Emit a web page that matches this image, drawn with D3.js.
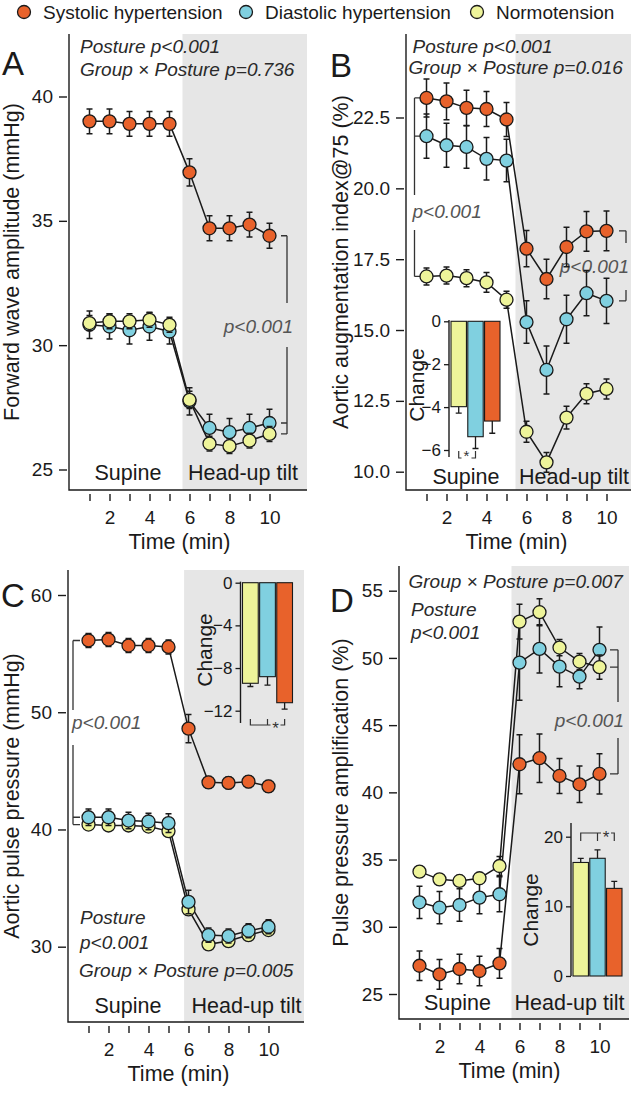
<!DOCTYPE html>
<html>
<head>
<meta charset="utf-8">
<script src="https://cdn.jsdelivr.net/npm/d3@7"></script>
<style>
  body { margin: 0; background: #fff; }
  text { font-family: "Liberation Sans", Arial, sans-serif; }
</style>
</head>
<body>
<script>
// ---- data ----
var minutes = [1, 2, 3, 4, 5, 6, 7, 8, 9, 10];
var groupNames = ['Systolic hypertension', 'Diastolic hypertension', 'Normotension'];
var groupColors = ['#e8622b', '#80d0e0', '#eef49a'];
var changeOrder = [2, 1, 0]; // bars: normotension, diastolic, systolic

// A: forward wave amplitude (mmHg)
var fwaSys = [39.0, 39.0, 38.9, 38.9, 38.9, 36.95, 34.7, 34.7, 34.85, 34.4];
var fwaSysSe = [0.5, 0.5, 0.5, 0.5, 0.5, 0.55, 0.5, 0.5, 0.5, 0.5];
var fwaDia = [30.82, 30.75, 30.6, 30.75, 30.55, 27.74, 26.67, 26.5, 26.67, 26.87];
var fwaDiaSe = [0.55, 0.5, 0.55, 0.55, 0.5, 0.55, 0.55, 0.55, 0.55, 0.55];
var fwaNor = [30.89, 30.96, 30.96, 31.02, 30.82, 27.8, 26.04, 25.94, 26.16, 26.43];
var fwaNorSe = [0.3, 0.3, 0.3, 0.3, 0.3, 0.35, 0.3, 0.3, 0.3, 0.3];

// B: aortic augmentation index@75 (%)
var aixSys = [23.19, 23.07, 22.84, 22.8, 22.43, 17.87, 16.8, 17.93, 18.48, 18.5];
var aixSysSe = [0.67, 0.65, 0.62, 0.62, 0.6, 0.64, 0.7, 0.7, 0.7, 0.7];
var aixDia = [21.84, 21.52, 21.46, 21.04, 20.98, 15.28, 13.59, 15.38, 16.3, 16.03];
var aixDiaSe = [0.78, 0.78, 0.75, 0.75, 0.75, 0.75, 0.85, 0.85, 0.8, 0.8];
var aixNor = [16.89, 16.92, 16.83, 16.68, 16.07, 11.41, 10.33, 11.91, 12.75, 12.92];
var aixNorSe = [0.3, 0.3, 0.3, 0.35, 0.3, 0.37, 0.35, 0.4, 0.35, 0.35];
var aixChange = [-3.98, -5.38, -4.65];
var aixChangeSe = [0.3, 0.55, 0.57];

// C: aortic pulse pressure (mmHg)
var appSys = [56.12, 56.2, 55.69, 55.69, 55.57, 48.6, 44.02, 43.97, 44.08, 43.68];
var appSysSe = [0.6, 0.6, 0.6, 0.6, 0.6, 1.2, 0.5, 0.5, 0.5, 0.5];
var appDia = [41.04, 41.04, 40.76, 40.68, 40.54, 33.82, 30.99, 30.91, 31.36, 31.7];
var appDiaSe = [0.7, 0.7, 0.7, 0.7, 0.8, 1.0, 0.6, 0.6, 0.6, 0.6];
var appNor = [40.42, 40.34, 40.34, 40.25, 39.86, 33.18, 30.2, 30.48, 30.99, 31.42];
var appNorSe = [0.4, 0.4, 0.4, 0.4, 0.4, 0.5, 0.4, 0.4, 0.4, 0.4];
var appChange = [-9.43, -8.81, -11.25];
var appChangeSe = [0.3, 0.8, 0.6];

// D: pulse pressure amplification (%)
var ppaSys = [27.1, 26.46, 26.86, 26.71, 27.28, 42.09, 42.54, 41.22, 40.6, 41.37];
var ppaSysSe = [1.1, 1.1, 1.1, 1.1, 1.1, 2.2, 1.8, 1.3, 1.36, 1.5];
var ppaDia = [31.82, 31.42, 31.62, 32.17, 32.42, 49.65, 50.67, 49.35, 48.61, 50.6];
var ppaDiaSe = [1.2, 1.2, 1.2, 1.2, 1.3, 2.8, 1.8, 1.5, 0.9, 1.7];
var ppaNor = [34.1, 33.53, 33.41, 33.61, 34.52, 52.7, 53.4, 50.77, 49.73, 49.31];
var ppaNorSe = [0.4, 0.4, 0.4, 0.4, 0.7, 1.3, 1.0, 0.6, 0.6, 0.9];
var ppaChange = [16.3, 16.9, 12.58];
var ppaChangeSe = [0.6, 1.2, 1.0];

var ink = '#1a1a1a';

var svg = d3.select('body')
  .append('svg')
  .attr('width', 633)
  .attr('height', 1093);

// legend
var legendX = [24, 246, 477];
groupNames.forEach(function (name, i) {
  svg.append('circle')
    .attr('cx', legendX[i]).attr('cy', 12).attr('r', 6.5)
    .attr('fill', groupColors[i]).attr('stroke', ink).attr('stroke-width', 1.3);
  svg.append('text')
    .attr('x', legendX[i] + 19).attr('y', 19)
    .attr('font-size', 19).attr('fill', ink)
    .text(name);
});

function drawPanel(p) {
  var g = svg.append('g');
  var x = d3.scaleLinear().domain([1, 10]).range([p.left + 20.5, p.left + 200.5]);
  var y = d3.scaleLinear().domain(p.yDomain).range(p.yRange);

  // head-up tilt shading
  g.append('rect')
    .attr('x', x(p.tiltFrom)).attr('y', p.top)
    .attr('width', p.right - x(p.tiltFrom)).attr('height', p.bottom - p.top)
    .attr('fill', '#e6e6e6');

  g.append('path')
    .attr('d', 'M' + p.left + ',' + p.top + 'V' + p.bottom + 'H' + p.right)
    .attr('fill', 'none').attr('stroke', ink).attr('stroke-width', 1.4);

  var ya = g.append('g')
    .attr('transform', 'translate(' + (p.left - 2) + ',0)')
    .call(d3.axisLeft(y).tickValues(p.yTicks).tickSize(8).tickPadding(6).tickFormat(p.yFmt));
  ya.select('.domain').remove();
  ya.attr('font-size', 19).attr('font-family', null);
  ya.selectAll('line').attr('stroke', ink).attr('stroke-width', 1.4);
  ya.selectAll('text').attr('fill', ink);

  var xa = g.append('g')
    .attr('transform', 'translate(0,' + (p.bottom + 4) + ')')
    .call(d3.axisBottom(x).tickValues(minutes).tickSize(7).tickPadding(10)
      .tickFormat(function (d) { return d % 2 === 0 ? d : ''; }));
  xa.select('.domain').remove();
  xa.attr('font-size', 19).attr('font-family', null);
  xa.selectAll('line').attr('stroke', ink).attr('stroke-width', 1.4);
  xa.selectAll('text').attr('fill', ink);

  // titles
  g.append('text')
    .attr('x', x(5.5)).attr('y', p.bottom + 59)
    .attr('text-anchor', 'middle').attr('font-size', 21.5).attr('fill', ink)
    .text('Time (min)');
  g.append('text')
    .attr('transform', 'translate(' + p.yLabelX + ',' + ((p.top + p.bottom) / 2) + ') rotate(-90)')
    .attr('text-anchor', 'middle').attr('font-size', 21.5).attr('fill', ink)
    .text(p.yLabel);
  g.append('text')
    .attr('x', p.letterX).attr('y', p.letterY)
    .attr('font-size', 33).attr('fill', ink)
    .text(p.letter);
  g.append('text')
    .attr('x', p.supineX).attr('y', p.bottom - p.phaseDy)
    .attr('text-anchor', 'middle').attr('font-size', 21.5).attr('fill', ink)
    .text('Supine');
  g.append('text')
    .attr('x', p.tiltX).attr('y', p.bottom - p.phaseDy)
    .attr('text-anchor', 'middle').attr('font-size', 21.5).attr('fill', ink)
    .text('Head-up tilt');

  // brackets
  p.brackets.forEach(function (b) {
    var ys = b.values.map(function (v) { return y(v); });
    var y0 = d3.min(ys), y1 = d3.max(ys);
    var bx = x(b.at) + b.offset;
    var path = 'M' + bx + ',' + y0 + 'V' + b.gap[0] + 'M' + bx + ',' + b.gap[1] + 'V' + y1;
    ys.forEach(function (yy) { path += 'M' + bx + ',' + yy + 'h' + b.tick; });
    g.append('path').attr('d', path).attr('fill', 'none')
      .attr('stroke', '#333').attr('stroke-width', 1.3);
    g.append('text')
      .attr('x', b.textX).attr('y', b.textY)
      .attr('text-anchor', b.anchor).attr('font-size', 19)
      .attr('font-style', 'italic').attr('fill', '#555')
      .text('p<0.001');
  });

  // stats notes
  p.notes.forEach(function (n) {
    g.append('text')
      .attr('x', n[0]).attr('y', n[1])
      .attr('font-size', 19).attr('font-style', 'italic').attr('fill', '#2a2a2a')
      .text(n[2]);
  });

  // inset bar chart
  if (p.inset) drawInset(g, p.inset);

  // series
  var line = d3.line().x(function (d, i) { return x(minutes[i]); }).y(function (d) { return y(d); });
  p.series.forEach(function (s) {
    g.append('path').datum(s.values).attr('d', line)
      .attr('fill', 'none').attr('stroke', ink).attr('stroke-width', 1.5);
  });
  p.series.forEach(function (s) {
    var eb = g.append('g');
    s.values.forEach(function (v, i) {
      var cx = x(minutes[i]);
      var hi = y(v + s.se[i]), lo = y(v - s.se[i]);
      eb.append('path')
        .attr('d', 'M' + cx + ',' + hi + 'V' + lo + 'M' + (cx - 3) + ',' + hi + 'h6M' + (cx - 3) + ',' + lo + 'h6')
        .attr('fill', 'none').attr('stroke', ink).attr('stroke-width', 1.5);
    });
    g.selectAll(null).data(s.values).enter()
      .append('circle')
      .attr('cx', function (d, i) { return x(minutes[i]); })
      .attr('cy', function (d) { return y(d); })
      .attr('r', 6.5)
      .attr('fill', groupColors[s.group])
      .attr('stroke', ink).attr('stroke-width', 1.3);
  });
}

function drawInset(g, ins) {
  var xb = d3.scaleBand().domain([0, 1, 2]).range(ins.xRange).paddingInner(0.08);
  var yb = d3.scaleLinear().domain(ins.yDomain).range(ins.yRange);
  var ax = ins.xRange[0] - 2;

  g.append('path')
    .attr('d', 'M' + ax + ',' + yb(ins.axisExtent[0]) + 'V' + yb(ins.axisExtent[1]))
    .attr('stroke', ink).attr('stroke-width', 1.4);
  var a = g.append('g')
    .attr('transform', 'translate(' + ax + ',0)')
    .call(d3.axisLeft(yb).tickValues(ins.ticks).tickSize(5).tickPadding(3).tickFormat(d3.format('d')));
  a.select('.domain').remove();
  a.attr('font-size', 17).attr('font-family', null);
  a.selectAll('line').attr('stroke', ink).attr('stroke-width', 1.3);
  a.selectAll('text').attr('fill', ink);

  g.append('text')
    .attr('transform', 'translate(' + ins.labelX + ',' + ins.labelY + ') rotate(-90)')
    .attr('text-anchor', 'middle').attr('font-size', 21).attr('fill', ink)
    .text('Change');

  ins.values.forEach(function (v, i) {
    var bx = xb(i), bw = xb.bandwidth();
    g.append('rect')
      .attr('x', bx).attr('width', bw)
      .attr('y', Math.min(yb(0), yb(v)))
      .attr('height', Math.abs(yb(v) - yb(0)))
      .attr('fill', groupColors[changeOrder[i]])
      .attr('stroke', ink).attr('stroke-width', 1.1);
    var cx = bx + bw / 2;
    var end = v < 0 ? v - ins.se[i] : v + ins.se[i];
    g.append('path')
      .attr('d', 'M' + cx + ',' + yb(v) + 'V' + yb(end) + 'M' + (cx - 3) + ',' + yb(end) + 'h6')
      .attr('stroke', ink).attr('stroke-width', 1.3);
  });

  // significance bracket
  var s = ins.sig;
  var cxs = [0, 1, 2].map(function (i) { return xb(i) + xb.bandwidth() / 2; });
  var bx0 = cxs[s.from], bx1 = cxs[s.to];
  var path = 'M' + bx0 + ',' + (s.y + s.tick) + 'V' + s.y + 'H' + (s.star - 5) +
    'M' + (s.star + 5) + ',' + s.y + 'H' + bx1 + 'V' + (s.y + s.tick);
  if (s.mid != null) path += 'M' + cxs[s.mid] + ',' + s.y + 'v' + s.tick;
  g.append('path').attr('d', path).attr('fill', 'none')
    .attr('stroke', '#333').attr('stroke-width', 1.2);
  g.append('text')
    .attr('x', s.star).attr('y', s.y + s.starDy)
    .attr('text-anchor', 'middle').attr('font-size', s.size || 17).attr('fill', '#333')
    .text('*');
}

drawPanel({
  letter: 'A', letterX: 2, letterY: 75,
  left: 69, right: 307, top: 34, bottom: 490,
  yDomain: [25, 40], yRange: [469.5, 96.5], yTicks: [25, 30, 35, 40], yFmt: d3.format('d'),
  yLabel: 'Forward wave amplitude (mmHg)', yLabelX: 18.5,
  tiltFrom: 5.65, supineX: 128, tiltX: 243, phaseDy: 10,
  notes: [[80, 53, 'Posture p<0.001'], [80, 76, 'Group \u00d7 Posture p=0.736']],
  brackets: [{ values: [fwaSys[9], fwaDia[9], fwaNor[9]], at: 10, offset: 17.5, tick: -6,
    gap: [303, 347], textX: 293, textY: 333, anchor: 'end' }],
  series: [
    { group: 0, values: fwaSys, se: fwaSysSe },
    { group: 1, values: fwaDia, se: fwaDiaSe },
    { group: 2, values: fwaNor, se: fwaNorSe }
  ]
});

drawPanel({
  letter: 'B', letterX: 330, letterY: 76.5,
  left: 406, right: 631, top: 34, bottom: 490,
  yDomain: [10, 22.5], yRange: [471.7, 117.5], yTicks: [10, 12.5, 15, 17.5, 20, 22.5], yFmt: d3.format('.1f'),
  yLabel: 'Aortic augmentation index@75 (%)', yLabelX: 347.5,
  tiltFrom: 5.45, supineX: 466, tiltX: 574, phaseDy: 6,
  notes: [[412.5, 53, 'Posture p<0.001'], [408.5, 73.5, 'Group \u00d7 Posture p=0.016']],
  brackets: [
    { values: [aixSys[0], aixDia[0], aixNor[0]], at: 1, offset: -12, tick: 8,
      gap: [195, 230], textX: 412.5, textY: 218, anchor: 'start' },
    { values: [aixSys[9], aixDia[9]], at: 10, offset: 19.5, tick: -7,
      gap: [243, 290], textX: 629, textY: 273, anchor: 'end' }
  ],
  inset: {
    values: aixChange, se: aixChangeSe,
    xRange: [451, 500], yDomain: [0, -6], yRange: [321.3, 450], ticks: [0, -2, -4, -6],
    axisExtent: [0.06, -6.33], labelX: 424, labelY: 385,
    sig: { from: 0, to: 1, y: 458, tick: -7, star: 466.5, starDy: 3, size: 15 }
  },
  series: [
    { group: 1, values: aixDia, se: aixDiaSe },
    { group: 0, values: aixSys, se: aixSysSe },
    { group: 2, values: aixNor, se: aixNorSe }
  ]
});

drawPanel({
  letter: 'C', letterX: 1, letterY: 606.5,
  left: 68, right: 304, top: 570, bottom: 1022,
  yDomain: [30, 60], yRange: [946.7, 595], yTicks: [30, 40, 50, 60], yFmt: d3.format('d'),
  yLabel: 'Aortic pulse pressure (mmHg)', yLabelX: 18.5,
  tiltFrom: 5.78, supineX: 128, tiltX: 246.5, phaseDy: 9,
  notes: [[80, 924, 'Posture'], [80, 948.5, 'p<0.001'], [79, 976.5, 'Group \u00d7 Posture p=0.005']],
  brackets: [{ values: [appSys[0], appDia[0], appNor[0]], at: 1, offset: -15.5, tick: 7,
    gap: [710, 745], textX: 72, textY: 729, anchor: 'start' }],
  inset: {
    values: appChange, se: appChangeSe,
    xRange: [242.5, 292.5], yDomain: [0, -12], yRange: [582.7, 710.7], ticks: [0, -4, -8, -12],
    axisExtent: [0.1, -13.15], labelX: 211.5, labelY: 650,
    sig: { from: 0, to: 2, mid: 1, y: 725, tick: -6, star: 275.5, starDy: 9 }
  },
  series: [
    { group: 0, values: appSys, se: appSysSe },
    { group: 2, values: appNor, se: appNorSe },
    { group: 1, values: appDia, se: appDiaSe }
  ]
});

drawPanel({
  letter: 'D', letterX: 330, letterY: 611.5,
  left: 399, right: 629, top: 566, bottom: 1019,
  yDomain: [25, 55], yRange: [994, 590.7], yTicks: [25, 30, 35, 40, 45, 50, 55], yFmt: d3.format('d'),
  yLabel: 'Pulse pressure amplification (%)', yLabelX: 347.5,
  tiltFrom: 5.6, supineX: 457.5, tiltX: 569.5, phaseDy: 9,
  notes: [[408.5, 588, 'Group \u00d7 Posture p=0.007'], [411, 616, 'Posture'], [411, 639, 'p<0.001']],
  brackets: [{ values: [ppaDia[9], ppaNor[9], ppaSys[9]], at: 10, offset: 18.5, tick: -8,
    gap: [702, 738], textX: 624, textY: 727, anchor: 'end' }],
  inset: {
    values: ppaChange, se: ppaChangeSe,
    xRange: [573, 622], yDomain: [0, 20], yRange: [976, 836.7], ticks: [0, 10, 20],
    axisExtent: [21.95, 0], labelX: 537.5, labelY: 910,
    sig: { from: 0, to: 2, mid: 1, y: 833, tick: 8, star: 606, starDy: 10 }
  },
  series: [
    { group: 0, values: ppaSys, se: ppaSysSe },
    { group: 1, values: ppaDia, se: ppaDiaSe },
    { group: 2, values: ppaNor, se: ppaNorSe }
  ]
});
</script>
</body>
</html>
